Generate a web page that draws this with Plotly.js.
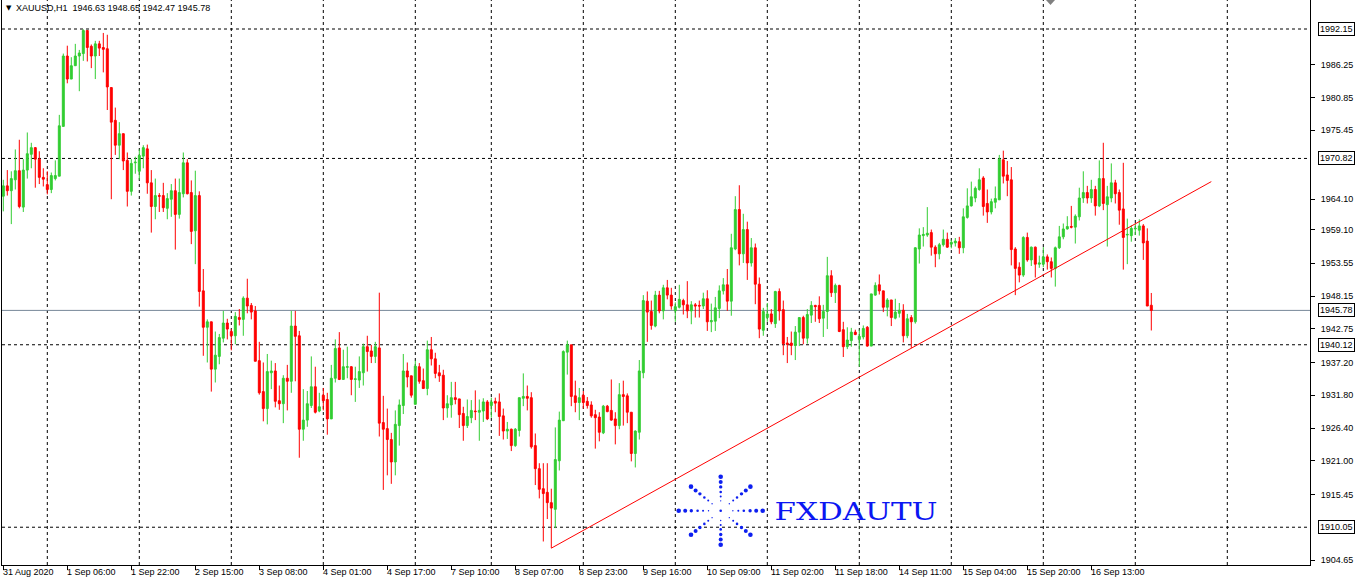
<!DOCTYPE html>
<html><head><meta charset="utf-8">
<script src="https://cdn.plot.ly/plotly-3.0.1.min.js"></script>
<style>html,body{margin:0;padding:0;background:#fff;overflow:hidden}#chart{width:1363px;height:580px}</style>
</head><body><div id="chart"></div>
<script>
// ---- DATA: XAUUSD H1 candles (31 Aug 2020 13:00 .. 17 Sep 2020 05:00) ----
const openP = [
1964.6,1966.3,1965.5,1967.3,1968.8,1962.8,1968.9,1971.5,1972.6,1970.7,1967.7,1966.5,1965.7,1967.5,1967.9,1976.1,1987.7,1983.9,1986.1,1987.7,
1988.1,1991.9,1989.3,1987.7,1989.7,1989.1,1988.9,1982.5,1977.1,1973.0,1974.9,1970.5,1965.4,1970.1,1968.7,1971.2,1972.4,1966.8,1962.9,1964.7,
1964.7,1962.6,1964.1,1965.5,1961.6,1965.0,1970.1,1965.2,1958.9,1964.7,1949.0,1943.0,1943.9,1936.1,1938.2,1941.2,1943.7,1942.3,1941.6,1944.6,
1944.3,1947.8,1946.6,1945.7,1937.5,1932.4,1929.6,1935.5,1935.8,1930.9,1930.4,1934.6,1934.1,1943.2,1941.6,1926.2,1927.7,1930.1,1933.2,1929.2,
1931.8,1931.1,1927.9,1934.6,1939.6,1934.4,1936.4,1936.5,1934.4,1934.3,1935.5,1939.8,1939.1,1938.2,1939.6,1927.3,1926.3,1924.5,1920.8,1926.8,
1930.1,1935.8,1935.0,1930.3,1936.5,1934.2,1932.9,1939.3,1937.8,1935.5,1935.1,1929.7,1930.2,1931.4,1931.2,1928.8,1926.8,1928.1,1929.2,1929.0,
1929.2,1930.7,1930.1,1930.8,1930.7,1928.4,1925.9,1926.2,1923.5,1926.0,1931.3,1931.6,1931.4,1923.5,1919.7,1916.4,1915.8,1914.1,1913.0,1921.0,
1927.6,1938.9,1940.1,1931.7,1930.6,1931.8,1930.8,1930.2,1928.6,1928.2,1925.6,1930.0,1929.3,1927.9,1926.8,1931.9,1931.7,1929.0,1922.2,1925.7,
1935.5,1947.3,1945.6,1943.2,1948.3,1945.7,1949.5,1948.3,1945.7,1946.3,1947.4,1946.7,1945.7,1946.7,1946.6,1946.5,1947.7,1943.9,1944.0,1946.1,
1949.0,1950.0,1947.3,1955.9,1962.4,1955.1,1959.1,1953.6,1956.1,1950.1,1942.5,1944.6,1945.2,1943.6,1948.9,1945.9,1940.4,1940.4,1940.0,1942.2,
1944.6,1941.2,1945.0,1946.6,1946.6,1944.5,1945.6,1951.5,1948.7,1949.9,1942.6,1939.8,1940.8,1942.2,1941.0,1941.4,1943.0,1939.9,1948.3,1950.0,
1949.0,1946.3,1947.5,1944.5,1945.3,1945.8,1941.6,1944.6,1943.9,1955.9,1958.1,1958.2,1958.6,1956.2,1955.1,1956.6,1957.5,1956.7,1956.9,1957.1,
1956.1,1961.1,1963.0,1964.3,1965.7,1967.6,1963.4,1962.0,1963.6,1964.0,1970.6,1968.1,1967.3,1955.9,1952.9,1951.6,1957.8,1954.1,1956.2,1953.4,
1953.4,1954.6,1953.8,1952.7,1956.1,1957.9,1959.2,1959.6,1959.5,1961.2,1964.3,1965.2,1964.3,1965.7,1963.0,1967.5,1963.2,1964.3,1966.8,1965.2,
1962.5,1958.2,1958.1,1959.2,1959.0,1959.7,1957.2,1946.63];
const highP = [
1967.3,1968.9,1968.7,1972.3,1973.9,1970.7,1975.1,1973.4,1972.7,1972.0,1969.2,1968.7,1968.5,1970.5,1978.0,1988.1,1989.4,1987.5,1989.7,1988.7,
1992.1,1991.9,1989.6,1990.2,1990.2,1991.5,1991.2,1982.5,1979.2,1976.8,1974.9,1971.8,1970.7,1971.1,1972.3,1973.0,1973.1,1968.9,1967.5,1965.1,
1966.8,1965.1,1966.6,1967.5,1967.5,1971.8,1970.7,1967.2,1968.8,1965.4,1952.6,1944.3,1943.9,1942.3,1941.9,1945.7,1944.4,1942.7,1945.5,1946.0,
1948.1,1951.0,1947.0,1946.5,1940.6,1937.2,1938.6,1937.5,1937.1,1933.4,1935.1,1936.8,1945.7,1945.7,1942.4,1932.8,1932.5,1938.2,1936.5,1932.2,
1933.0,1932.2,1936.8,1941.0,1942.2,1939.3,1939.8,1936.6,1936.5,1938.2,1940.3,1941.6,1940.1,1940.6,1948.7,1931.7,1929.6,1925.6,1929.3,1931.1,
1938.6,1937.2,1935.0,1937.5,1937.1,1936.2,1940.8,1941.4,1938.8,1936.8,1936.0,1931.8,1934.0,1934.0,1931.2,1929.9,1931.1,1931.0,1932.6,1931.1,
1931.3,1931.0,1931.4,1931.4,1932.1,1929.6,1927.4,1926.3,1926.4,1931.4,1935.4,1933.4,1932.3,1925.5,1920.6,1920.6,1920.6,1916.4,1926.5,1929.1,
1939.2,1940.8,1940.1,1934.2,1933.0,1932.5,1931.5,1930.8,1929.4,1929.0,1930.2,1930.2,1934.4,1929.0,1933.8,1934.2,1932.1,1929.0,1926.0,1937.6,
1948.3,1948.9,1947.4,1949.0,1949.0,1950.0,1950.8,1949.5,1947.1,1950.0,1947.7,1950.6,1947.3,1947.0,1947.4,1948.7,1949.1,1946.9,1948.0,1949.9,
1951.1,1952.6,1958.4,1964.6,1966.4,1961.7,1960.4,1957.7,1956.8,1951.2,1946.2,1947.0,1946.0,1949.0,1949.4,1947.4,1941.4,1942.3,1943.2,1944.6,
1944.9,1946.0,1947.3,1946.7,1948.1,1946.7,1954.6,1952.4,1950.2,1950.0,1943.9,1943.0,1942.9,1942.6,1942.6,1943.3,1943.2,1948.5,1950.4,1951.7,
1949.0,1947.8,1947.5,1947.7,1947.0,1946.8,1945.2,1945.0,1956.2,1959.3,1959.5,1962.8,1959.1,1956.5,1956.9,1959.1,1958.6,1957.4,1957.7,1957.9,
1962.6,1965.9,1967.0,1966.2,1969.2,1967.9,1965.7,1964.2,1966.2,1971.4,1972.1,1970.4,1969.4,1956.2,1953.7,1958.0,1958.6,1956.3,1956.3,1954.8,
1956.2,1955.0,1954.5,1956.3,1959.7,1960.1,1961.3,1963.0,1961.6,1966.0,1968.7,1966.3,1967.3,1966.3,1970.5,1973.4,1966.3,1970.0,1967.3,1965.7,
1970.1,1960.9,1959.8,1960.1,1960.8,1960.0,1959.3,1948.65];
const lowP = [
1962.1,1964.7,1960.0,1965.7,1962.6,1962.0,1967.5,1969.2,1966.0,1966.6,1966.2,1964.9,1965.1,1967.2,1967.9,1976.1,1983.2,1983.9,1986.1,1981.9,
1986.9,1986.8,1985.7,1983.9,1987.7,1985.0,1978.8,1964.1,1971.4,1970.7,1968.9,1962.9,1964.7,1968.3,1967.3,1969.2,1965.0,1958.6,1960.8,1962.0,
1962.0,1960.8,1961.2,1955.8,1960.9,1964.4,1964.9,1956.7,1953.4,1946.4,1938.3,1937.2,1932.4,1933.9,1936.9,1940.5,1941.0,1939.2,1940.2,1943.3,
1941.6,1945.3,1944.3,1937.4,1931.9,1927.5,1927.0,1932.8,1929.8,1929.4,1927.2,1929.3,1932.2,1934.1,1921.5,1924.3,1926.6,1929.7,1928.8,1929.0,
1929.3,1925.3,1927.9,1933.9,1934.3,1934.4,1934.6,1931.8,1930.7,1933.0,1933.4,1935.7,1937.1,1937.1,1925.0,1916.2,1918.6,1917.2,1918.6,1923.5,
1928.7,1933.1,1931.4,1930.3,1933.7,1932.9,1931.8,1936.7,1934.6,1934.0,1927.7,1928.1,1928.1,1930.3,1926.4,1924.3,1926.4,1927.2,1927.7,1924.3,
1927.4,1927.7,1928.1,1929.0,1925.1,1924.5,1924.6,1922.6,1923.3,1925.0,1930.0,1929.3,1923.0,1917.0,1914.8,1907.7,1911.4,1906.6,1909.9,1919.4,
1927.6,1935.2,1930.0,1929.0,1927.7,1929.6,1929.6,1928.1,1923.0,1924.2,1925.4,1929.0,1927.6,1923.7,1926.2,1926.8,1927.2,1920.9,1919.9,1924.5,
1934.6,1940.6,1942.6,1943.0,1945.3,1944.3,1947.6,1945.9,1943.9,1946.1,1945.1,1944.5,1943.5,1944.6,1944.6,1946.0,1942.4,1942.2,1942.4,1944.5,
1948.4,1945.7,1944.9,1955.7,1953.2,1953.6,1950.8,1953.0,1946.8,1941.2,1941.6,1943.9,1943.5,1942.9,1944.1,1938.4,1937.1,1938.4,1937.6,1939.9,
1940.2,1940.3,1943.7,1943.9,1943.7,1941.4,1942.7,1948.0,1947.0,1942.2,1938.1,1939.4,1939.8,1941.7,1936.5,1941.0,1939.8,1939.9,1948.2,1948.4,
1945.5,1944.8,1943.2,1944.3,1944.6,1940.5,1941.2,1939.6,1943.6,1953.5,1956.3,1957.9,1954.8,1952.9,1954.2,1956.3,1956.1,1956.0,1956.3,1955.1,
1955.2,1960.9,1962.9,1963.6,1965.5,1961.4,1960.2,1961.6,1962.6,1964.0,1966.7,1964.6,1953.2,1948.3,1950.4,1951.3,1953.8,1953.1,1951.2,1952.8,
1952.9,1952.5,1951.2,1949.7,1955.9,1957.5,1959.1,1959.3,1956.8,1960.6,1963.5,1963.4,1963.5,1961.4,1962.8,1962.3,1956.3,1963.6,1963.4,1959.9,
1952.5,1953.4,1957.1,1958.2,1958.1,1954.1,1946.5,1942.47];
const closeP = [
1966.3,1965.5,1967.5,1968.8,1962.9,1968.9,1971.6,1972.6,1970.7,1967.7,1967.4,1965.7,1968.0,1968.0,1976.2,1987.7,1983.9,1986.1,1987.7,1988.2,
1991.9,1989.1,1987.7,1989.7,1989.0,1988.8,1982.6,1976.8,1973.0,1974.9,1970.4,1965.4,1970.0,1970.2,1971.3,1972.6,1966.8,1962.9,1964.7,1964.6,
1962.7,1964.2,1965.5,1961.6,1965.2,1970.1,1965.0,1958.8,1964.7,1948.9,1943.0,1943.9,1936.1,1938.4,1941.3,1943.7,1942.7,1941.6,1944.8,1944.3,
1947.8,1946.5,1945.5,1937.4,1932.2,1929.6,1935.7,1935.8,1930.8,1930.4,1934.6,1934.1,1943.2,1941.5,1926.2,1927.7,1930.4,1933.2,1929.0,1929.9,
1930.9,1927.9,1934.6,1939.5,1934.4,1936.5,1936.5,1934.4,1934.5,1935.7,1939.8,1939.0,1938.2,1939.8,1927.2,1926.2,1924.5,1920.8,1927.0,1930.2,
1935.8,1934.8,1931.8,1936.6,1934.1,1932.9,1939.3,1937.8,1935.4,1935.0,1929.7,1930.4,1931.4,1931.1,1928.6,1926.8,1928.3,1929.3,1929.1,1929.3,
1930.7,1927.9,1930.7,1930.5,1928.3,1925.9,1926.2,1923.5,1926.2,1931.4,1931.6,1931.3,1923.3,1919.7,1916.3,1915.6,1914.1,1913.2,1921.2,1927.7,
1939.0,1940.1,1931.6,1930.6,1931.4,1930.6,1930.1,1928.4,1928.1,1925.7,1930.0,1929.1,1927.7,1926.8,1931.9,1931.6,1929.0,1922.2,1925.9,1935.8,
1947.4,1945.5,1943.3,1948.3,1945.7,1949.5,1948.3,1946.5,1946.4,1947.6,1946.7,1945.7,1946.7,1946.5,1946.5,1947.7,1943.9,1944.1,1946.2,1949.0,
1950.0,1947.3,1956.1,1962.4,1955.1,1959.1,1953.6,1956.1,1950.1,1942.7,1945.6,1945.2,1943.9,1948.9,1945.7,1940.3,1940.2,1940.0,1942.2,1944.6,
1941.2,1945.1,1946.6,1946.4,1944.4,1945.6,1951.5,1948.7,1949.9,1942.3,1939.8,1940.9,1942.2,1941.8,1941.5,1942.8,1939.9,1948.5,1949.9,1949.0,
1946.3,1947.5,1944.6,1945.5,1945.8,1941.6,1944.4,1943.9,1956.1,1958.2,1958.3,1958.5,1956.2,1955.1,1956.6,1957.5,1956.2,1957.0,1957.2,1956.1,
1961.2,1963.0,1964.5,1965.9,1967.3,1962.9,1962.0,1963.7,1964.2,1970.7,1967.9,1967.2,1955.8,1952.7,1951.6,1957.8,1954.1,1956.2,1953.4,1953.6,
1954.6,1953.8,1952.7,1956.1,1957.9,1959.2,1959.6,1959.5,1961.3,1964.3,1965.2,1964.3,1965.7,1963.0,1967.5,1963.4,1964.5,1966.8,1965.0,1962.3,
1957.8,1958.3,1959.3,1959.3,1959.7,1956.9,1946.5,1945.78];

// time axis labels (bar number -> label)
const timeTickBars = [0,16,32,48,64,80,96,112,128,144,160,176,192,208,224,240,256,272];
const timeTickLabels = ['31 Aug 2020','1 Sep 06:00','1 Sep 22:00','2 Sep 15:00','3 Sep 08:00','4 Sep 01:00','4 Sep 17:00','7 Sep 10:00','8 Sep 07:00','8 Sep 23:00','9 Sep 16:00','10 Sep 09:00','11 Sep 02:00','11 Sep 18:00','14 Sep 11:00','15 Sep 04:00','15 Sep 20:00','16 Sep 13:00'];
// first bar of each trading day (vertical grid)
const dayStartBars = [11,34,57,80,103,122,145,168,191,214,237,260,283,306];
// price scale labels
const priceTicks = [1986.25,1980.85,1975.45,1964.10,1959.10,1953.55,1948.15,1942.75,1937.20,1931.80,1926.40,1921.00,1915.45,1904.65];
// horizontal line objects
const levelPrices = [1992.15,1970.82,1940.12,1910.05];
const bidPrice = 1945.78;
// trend line anchor points (bar, price)
const trendBars = [137,302];
const trendPrices = [1906.6,1967.0];
const header = 'XAUUSD,H1  1946.63 1948.65 1942.47 1945.78';

const barIdx = closeP.map((_, i) => i);

// ---- layout geometry ----
const M = {l:2, r:53, t:0, b:15};
const W = 1363 - M.l - M.r, H = 580 - M.t - M.b;
const px = x => (x - M.l) / W;
const py = y => 1 - (y - M.t) / H;
const FONT = 'Liberation Sans, Arial, sans-serif';

const shapes = [];
dayStartBars.forEach(b => shapes.push({type:'line', xref:'x', yref:'paper', x0:b, x1:b, y0:0, y1:1,
  line:{color:'#000', width:1, dash:'3px,3px'}, layer:'below'}));
levelPrices.forEach(p => shapes.push({type:'line', xref:'paper', yref:'y', x0:0, x1:1, y0:p, y1:p,
  line:{color:'#000', width:1, dash:'3px,3px'}, layer:'below'}));
shapes.push({type:'line', xref:'paper', yref:'y', x0:0, x1:1, y0:bidPrice, y1:bidPrice,
  line:{color:'#778899', width:1}, layer:'below'});
// chart-shift marker at the top
shapes.push({type:'path', xref:'paper', yref:'paper',
  path:`M ${px(1046)} ${py(0)} L ${px(1055)} ${py(0)} L ${px(1050.5)} ${py(5)} Z`,
  fillcolor:'#808080', line:{width:0}});

// watermark logo (star of dots)
const cx = 720.7, cy = 510.7, ra = 42, rb = 34;
const fr = [1, 0.845, 0.70, 0.55, 0.42, 0.29];
const dr = [2.3, 2.0, 1.7, 1.3, 1.0, 0.7];
const dotColor = '#0d1ff0';
for (let k = 0; k < 8; k++) {
  const a = k * Math.PI / 4;
  for (let j = 0; j < fr.length; j++) {
    const x = cx + Math.cos(a) * ra * fr[j], y = cy - Math.sin(a) * rb * fr[j], r = dr[j];
    shapes.push({type:'circle', xref:'paper', yref:'paper', x0:px(x-r), x1:px(x+r), y0:py(y+r), y1:py(y-r),
      fillcolor:dotColor, line:{width:0}});
  }
}
shapes.push({type:'circle', xref:'paper', yref:'paper', x0:px(cx-1.3), x1:px(cx+1.3), y0:py(cy+1.3), y1:py(cy-1.3),
  fillcolor:dotColor, line:{width:0}});

const annotations = [];
timeTickBars.forEach((b, i) => annotations.push({x:b, y:0, xref:'x', yref:'paper', xanchor:'left', yanchor:'top',
  text:timeTickLabels[i], showarrow:false, yshift:-1, xshift:-1, borderpad:0, font:{family:FONT, size:9, color:'#000'}}));
levelPrices.concat([bidPrice]).forEach(p => annotations.push({x:1, y:p, xref:'paper', yref:'y', xanchor:'left', yanchor:'middle',
  text:p.toFixed(2), showarrow:false, xshift:8, borderpad:1, bgcolor:'#fff', bordercolor:'#000', borderwidth:1,
  font:{family:FONT, size:9, color:'#000'}}));
annotations.push({x:0, y:1, xref:'paper', yref:'paper', xanchor:'left', yanchor:'top', text:'▼', showarrow:false,
  xshift:3, yshift:-3, borderpad:0, font:{family:'DejaVu Sans', size:7, color:'#000'}});
annotations.push({x:0, y:1, xref:'paper', yref:'paper', xanchor:'left', yanchor:'top', text:header, showarrow:false,
  xshift:13, yshift:-2, borderpad:0, font:{family:FONT, size:9, color:'#000'}});
annotations.push({x:px(856), y:py(511), xref:'paper', yref:'paper', xanchor:'center', yanchor:'middle', text:'FXDAUTU',
  showarrow:false, borderpad:0, font:{family:'DejaVu Serif, Liberation Serif, serif', size:25, color:'#0b16f2'}});

const traces = [
  {type:'candlestick', x:barIdx, open:openP, high:highP, low:lowP, close:closeP,
   increasing:{line:{color:'#32cd32', width:1}, fillcolor:'#32cd32'},
   decreasing:{line:{color:'#ff0000', width:1}, fillcolor:'#ff0000'},
   whiskerwidth:0, hoverinfo:'skip', showlegend:false},
  {type:'scatter', mode:'lines', x:trendBars, y:trendPrices, line:{color:'#ff0000', width:1}, hoverinfo:'skip', showlegend:false}
];

const layout = {
  width:1363, height:580, margin:M, paper_bgcolor:'#fff', plot_bgcolor:'#fff', showlegend:false,
  xaxis:{range:[(M.l - 3.3) / 4, (M.l + W - 3.3) / 4], showgrid:false, zeroline:false, showline:true, linecolor:'#000', linewidth:1,
    ticks:'outside', ticklen:4, tickcolor:'#000', tickvals:timeTickBars, showticklabels:false, rangeslider:{visible:false}, fixedrange:true},
  yaxis:{side:'right', range:[1904.65 - (565 - 560) / 6.0686, 1904.65 + 560 / 6.0686], showgrid:false, zeroline:false,
    showline:true, mirror:true, linecolor:'#000', linewidth:1, ticks:'outside', ticklen:4, tickcolor:'#000',
    tickvals:priceTicks, ticktext:priceTicks.map(v => v.toFixed(2)), ticklabelstandoff:4,
    tickfont:{family:FONT, size:9, color:'#000'}, fixedrange:true},
  shapes, annotations, hovermode:false
};

Plotly.newPlot('chart', traces, layout, {staticPlot:true, displayModeBar:false}).then(() => {
  document.querySelectorAll('.annotation-text').forEach(t => {
    if (t.textContent === 'FXDAUTU') { t.setAttribute('textLength', '163'); t.setAttribute('lengthAdjust', 'spacingAndGlyphs'); }
  });
});
</script></body></html>
